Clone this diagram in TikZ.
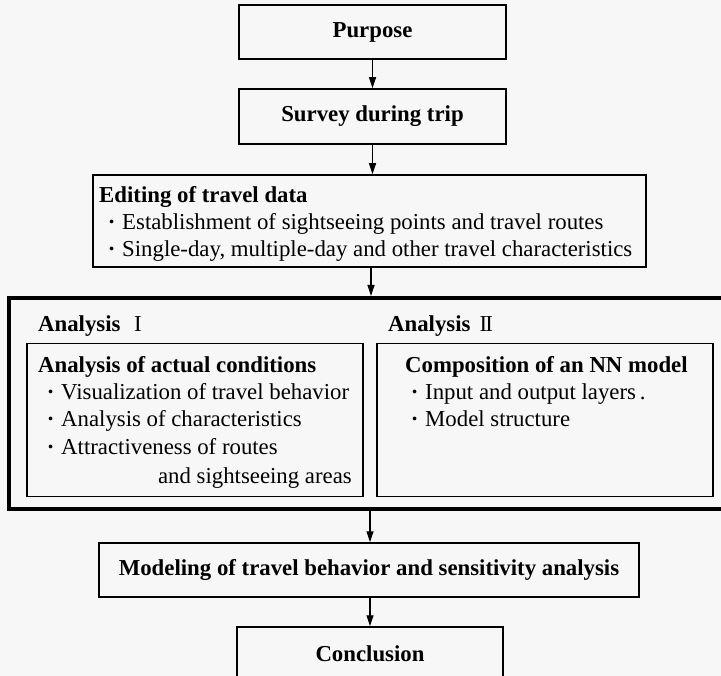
\documentclass[tikz,border=0pt]{standalone}
\usepackage{fontspec}
\setmainfont{Liberation Serif}
\usetikzlibrary{arrows.meta}
\newcommand\bul{\makebox[21pt][c]{\bfseries\textperiodcentered}}
\begin{document}
\fontsize{22.8}{27}\selectfont
\begin{tikzpicture}[x=1pt,y=-1pt,
  box/.style={draw, line width=1.5pt, inner sep=0pt, font=\bfseries, text height=0.68em, text depth=0.2em},
  frame/.style={draw, line width=1.5pt, inner sep=0pt},
  thickframe/.style={draw, line width=4pt, inner sep=0pt},
  txt/.style={inner sep=0pt, anchor=base west},
  hd/.style={txt, font=\bfseries},
  arr/.style={line width=1.2pt, -{Triangle[length=11pt,width=7pt]}}]
\fill[black!3] (0,0) rectangle (721,676);
\useasboundingbox (0,0) rectangle (721,676);

% top chain
\node[box, minimum width=267pt, minimum height=54pt] (purpose) at (372.5,32) {Purpose};
\node[box, minimum width=267pt, minimum height=55pt] (survey) at (372.5,116.5) {Survey during trip};

% editing box
\node[frame, minimum width=553pt, minimum height=92pt] (editing) at (369.5,221) {};
\node[hd] (ed0) at (99,203) {Editing of travel data};
\node[txt] (ed1) at (101,230) {\bul Establishment of sightseeing points and travel routes};
\node[txt] (ed2) at (101,257) {\bul Single-day, multiple-day and other travel characteristics};

% analysis frame
\node[thickframe, minimum width=716pt, minimum height=211pt] (analysis) at (367,403.5) {};
\node[hd] (aI) at (38,332) {Analysis\hspace{0.6em}{\mdseries I}};
\node[hd] (aII) at (388,332) {Analysis\hspace{0.4em}{\mdseries I\kern-0.08em I}};

\node[frame, minimum width=336pt, minimum height=153pt] (left) at (195,420) {};
\node[frame, minimum width=336pt, minimum height=153pt] (right) at (545,420) {};

\node[hd] (l0) at (38,373) {Analysis of actual conditions};
\node[txt] (l1) at (40,400) {\bul Visualization of travel behavior};
\node[txt] (l2) at (40,427) {\bul Analysis of characteristics};
\node[txt] (l3) at (40,455) {\bul Attractiveness of routes};
\node[txt, anchor=base east] (l4) at (352,483) {and sightseeing areas};

\node[hd] (r0) at (405,373) {Composition of an NN model};
\node[txt] (r1) at (404,400) {\bul Input and output layers\,.};
\node[txt] (r2) at (404,427) {\bul Model structure};

% bottom chain
\node[box, minimum width=540pt, minimum height=54pt] (model) at (369,570) {Modeling of travel behavior and sensitivity analysis};
\node[box, minimum width=266pt, minimum height=58pt] (concl) at (370,656) {Conclusion};

% connectors
\coordinate (ax) at (371,0);
\coordinate (bx) at (370,0);
\draw[arr] (purpose) -- (survey);
\draw[arr] (survey.south) -- (survey.south |- editing.north);
\draw[arr] (ax |- editing.south) -- (ax |- analysis.north);
\draw[arr] (bx |- analysis.south) -- (bx |- model.north);
\draw[arr] (bx |- model.south) -- (bx |- concl.north);
\end{tikzpicture}
\end{document}
